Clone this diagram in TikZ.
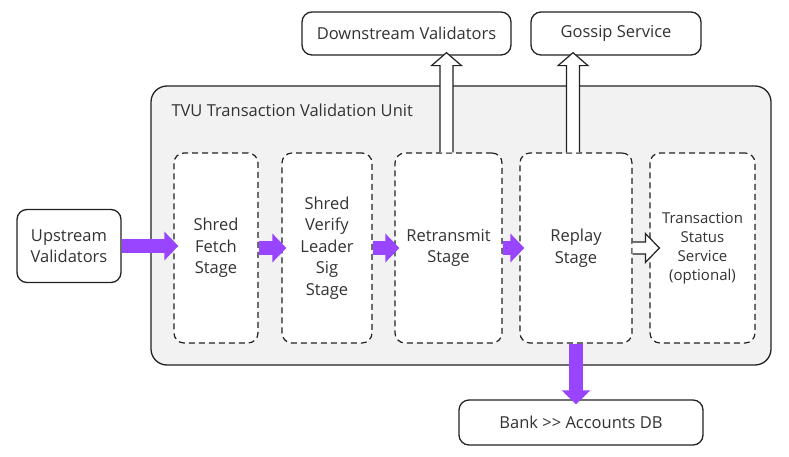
\documentclass[tikz,border=0pt]{standalone}
\usepackage{fontspec}
\setmainfont{Open Sans}
\usetikzlibrary{arrows.meta,calc,positioning}

\definecolor{solpurple}{RGB}{153,69,255}
\definecolor{unitgray}{RGB}{242,242,242}
\definecolor{inkgray}{RGB}{51,51,51}
\definecolor{linegray}{RGB}{34,34,34}

\tikzset{
  extbox/.style={draw=linegray, line width=1.3pt, rounded corners=10pt, fill=white,
    align=center, text=inkgray, inner sep=0pt, font=\fontsize{16.5}{20.5}\selectfont},
  stagebox/.style={draw=linegray, line width=1.2pt, dash pattern=on 6pt off 4pt,
    rounded corners=10pt, fill=white, align=center, text=inkgray, inner sep=0pt,
    minimum height=190pt, font=\fontsize{16.5}{21.5}\selectfont},
  unitbox/.style={draw=linegray, line width=1.3pt, rounded corners=16pt, fill=unitgray,
    minimum width=620pt, minimum height=279pt},
  purplearrow/.style={draw=solpurple, line width=14pt,
    -{Triangle[length=14pt,width=28pt]}, shorten >=-5pt},
  hollowarrow/.style={draw=linegray, line width=1.2pt, fill=white, line join=miter},
}

% hollow arrows: #1 = start point, #2 = node border it points into
\newcommand{\hollowup}[2]{%
  \draw[hollowarrow] let \p1=(#1), \p2=(#2) in
    (\x1-6.5pt,\y1) -- (\x1-6.5pt,\y2-10pt) -- (\x1-15pt,\y2-10pt) -- (\x1,\y2+3pt)
    -- (\x1+15pt,\y2-10pt) -- (\x1+6.5pt,\y2-10pt) -- (\x1+6.5pt,\y1);}
\newcommand{\hollowright}[2]{%
  \draw[hollowarrow] let \p1=(#1), \p2=(#2) in
    (\x1,\y1+6pt) -- (\x2-4pt,\y1+6pt) -- (\x2-4pt,\y1+14.5pt) -- (\x2+10pt,\y1)
    -- (\x2-4pt,\y1-14.5pt) -- (\x2-4pt,\y1-6pt) -- (\x1,\y1-6pt);}

\begin{document}
\begin{tikzpicture}[x=1pt, y=-1pt]
  \useasboundingbox (0,0) rectangle (789,457);

  % TVU unit
  \node[unitbox] (unit) at (461,225.5) {};
  \node[anchor=west, text=inkgray, font=\fontsize{16.5}{20}\selectfont] (title) at (168,110)
    {TVU Transaction Validation Unit};

  % stages
  \node[stagebox, minimum width=84pt] (fetch) at (216,248) {Shred\\Fetch\\Stage};
  \node[stagebox, minimum width=90pt] (verify) at (327,248) {Shred\\Verify\\Leader\\Sig\\Stage};
  \node[stagebox, minimum width=107pt] (retx) at (448.5,248) {Retransmit\\Stage};
  \node[stagebox, minimum width=112pt] (replay) at (576,248) {Replay\\Stage};
  \node[stagebox, minimum width=105pt, font=\fontsize{15}{19}\selectfont] (txs) at (702.5,248)
    {Transaction\\Status\\Service\\(optional)};

  % outside boxes
  \node[extbox, minimum width=104pt, minimum height=73pt] (up) at (69,246) {Upstream\\Validators};
  \node[extbox, minimum width=209pt, minimum height=43pt] (down) at (406.5,33.5) {Downstream Validators};
  \node[extbox, minimum width=170pt, minimum height=43pt] (gossip) at (616,33.5) {Gossip Service};
  \node[extbox, minimum width=244pt, minimum height=45pt] (bank) at (581,422.5) {Bank >{}> Accounts DB};

  % data flow
  \draw[purplearrow] (up.east) -- (up.east -| fetch.west);
  \draw[purplearrow] (fetch.east) -- (verify.west);
  \draw[purplearrow] (verify.east) -- (retx.west);
  \draw[purplearrow] (retx.east) -- (replay.west);
  \draw[purplearrow] (replay.south) -- (replay.south |- bank.north);

  \hollowup{$(retx.north)+(-2,0)$}{down.south}
  \hollowup{$(replay.north)+(-3,0)$}{gossip.south}
  \hollowright{replay.east}{txs.west}
\end{tikzpicture}
\end{document}
